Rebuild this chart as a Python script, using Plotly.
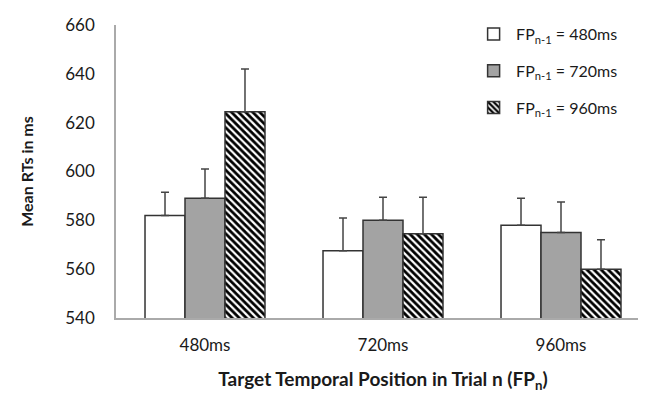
import plotly.graph_objects as go

categories = ["480ms", "720ms", "960ms"]
series_names = ["FP<sub>n-1</sub> = 480ms", "FP<sub>n-1</sub> = 720ms", "FP<sub>n-1</sub> = 960ms"]
means_480 = [582, 567.5, 578]
means_720 = [589, 580, 575]
means_960 = [624.5, 574.5, 560]
err_480 = [9.5, 13.5, 11]
err_720 = [12, 9.5, 12.5]
err_960 = [17.5, 15, 12]

FONT = "Lato"
TXT = "#1a1a1a"
fig = go.Figure()

styles = [
    dict(color="white"),
    dict(color="#a3a3a3"),
    dict(color="white", pattern=dict(shape="\\", fgcolor="#000000", bgcolor="#ffffff",
                                     fgopacity=1, size=5, solidity=0.55)),
]
for name, vals, errs, st in zip(series_names, [means_480, means_720, means_960],
                                [err_480, err_720, err_960], styles):
    fig.add_trace(go.Bar(
        x=categories, y=vals, name=name, legendgroup=name,
        marker=dict(line=dict(color="#333333", width=1.5), **st),
        error_y=dict(type="data", symmetric=False, array=errs, arrayminus=[0]*len(errs),
                     color="#444444", thickness=1.5, width=4),
    ))

fig.update_layout(
    width=646, height=394,
    margin=dict(l=108, r=4, t=17, b=84, autoexpand=False),
    paper_bgcolor="white", plot_bgcolor="white",
    barmode="group", bargap=0.326, bargroupgap=0,
    font=dict(family=FONT, size=17, color=TXT),
    legend=dict(x=0.665, y=1.027, xanchor="left", yanchor="top", itemwidth=35,
                font=dict(family=FONT, size=16, color=TXT),
                traceorder="grouped", tracegroupgap=13, bgcolor="rgba(0,0,0,0)"),
    xaxis=dict(showline=True, linecolor="#aaaaaa", linewidth=1.5, ticks="",
               automargin=False, ticklabelstandoff=11, tickfont=dict(size=17),
               title=dict(text="<b>Target Temporal Position in Trial n (FP<sub>n</sub>)</b>",
                          font=dict(family=FONT, size=19, color=TXT), standoff=19)),
    yaxis=dict(range=[540, 660], dtick=20, showline=True, linecolor="#aaaaaa", linewidth=1.5,
               showgrid=False, zeroline=False, ticks="", ticklabelstandoff=16,
               automargin=False, tickfont=dict(size=17),
               title=dict(text="<b>Mean RTs in ms</b>",
                          font=dict(family=FONT, size=16, color=TXT), standoff=28)),
)

fig.write_html("out.html")
